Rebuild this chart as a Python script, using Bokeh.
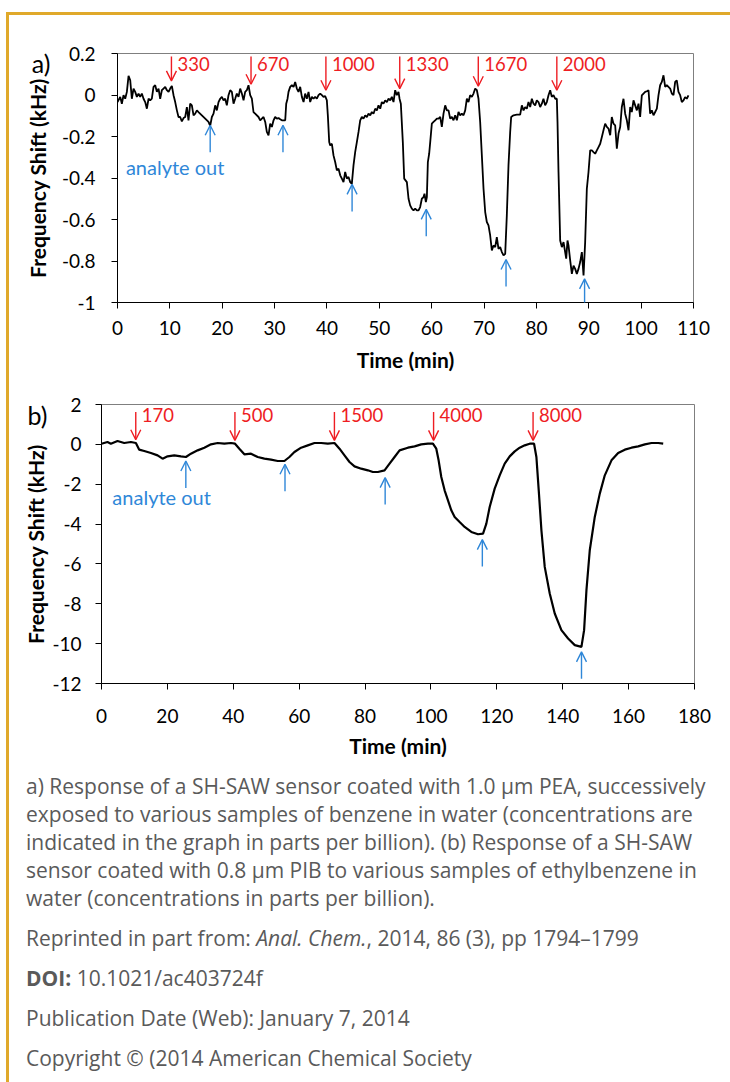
from bokeh.plotting import figure
from bokeh.layouts import column
from bokeh.models import (Range1d, FixedTicker, NumeralTickFormatter, Arrow, OpenHead,
                          Label, LabelSet, ColumnDataSource, Div, LinearAxis)
from bokeh.embed import file_html
from bokeh.resources import INLINE
from bokeh.core.properties import value

# ---------------- Panel a data (benzene, PEA) ----------------
a_time = [0.0, 0.52, 0.83, 1.15, 1.47, 1.79, 2.11, 2.43, 2.74, 3.06, 3.38, 3.70, 4.02, 4.33, 4.65,
          4.97, 5.29, 5.61, 5.93, 6.24, 6.56, 6.88, 7.20, 7.52, 7.84, 8.15, 8.47, 8.79, 9.11, 9.43,
          9.75, 10.06, 10.38, 10.70, 11.02, 11.34, 11.65, 11.97, 12.29, 12.61, 12.93, 13.25, 13.56,
          13.88, 14.20, 14.52, 14.84, 15.16, 15.47, 16.11, 16.75, 17.38, 17.70, 18.02, 18.34, 18.66,
          18.97, 19.29, 19.61, 19.93, 20.25, 20.56, 20.88, 21.20, 21.52, 21.84, 22.16, 22.47, 22.79,
          23.11, 23.43, 23.75, 24.07, 24.38, 24.70, 25.02, 25.34, 25.66, 25.97, 26.29, 26.93,
          27.25, 27.57, 27.89, 28.21, 28.52, 28.84, 29.16, 29.48, 29.80, 30.11, 30.43, 30.75, 31.07,
          31.39, 31.71, 32.03, 32.22, 32.47, 32.66, 32.98, 33.30, 33.62, 33.93, 34.25, 34.57, 34.89,
          35.21, 35.53, 35.84, 36.16, 36.48, 36.80, 37.12, 37.43, 37.75, 38.07, 38.39, 38.71, 39.03,
          39.34, 39.66, 39.98, 40.17, 40.43, 40.62, 40.94, 41.25, 41.57, 41.89, 42.21, 42.53, 42.85,
          43.16, 43.48, 43.80, 44.12, 44.44, 44.75, 45.07, 45.39, 45.71, 46.03, 46.35, 46.66, 46.98,
          47.30, 47.62, 47.94, 48.26, 48.57, 48.89, 49.21, 49.53, 49.85, 50.17, 50.48, 50.80, 51.12,
          51.44, 51.76, 52.08, 52.39, 52.71, 53.03, 53.35, 53.66, 53.86, 54.11, 54.49, 54.75,
          55.26, 55.58, 55.89, 56.21, 56.53, 56.85, 57.17, 57.49, 57.80, 58.12, 58.44, 58.63, 58.89,
          59.08, 59.27, 59.52, 59.72, 60.03, 60.35, 60.67, 60.99, 61.31, 61.63, 61.94, 62.26, 62.58,
          62.90, 63.22, 63.53, 63.85, 64.17, 64.49, 64.81, 65.12, 65.44, 65.76, 66.08, 66.40, 66.72,
          67.03, 67.35, 67.67, 67.99, 68.31, 68.63, 68.94, 69.26, 69.58, 69.90, 70.22, 70.53, 70.85,
          71.17, 71.49, 71.81, 72.13, 72.44, 72.76, 73.08, 73.40, 73.72, 74.04, 74.35, 74.67, 74.99,
          75.18, 75.63, 76.26, 76.90, 77.22, 77.54, 77.85, 78.17, 78.49, 78.81, 79.13, 79.45, 79.76,
          80.08, 80.40, 80.72, 81.04, 81.35, 81.67, 81.99, 82.31, 82.63, 82.94, 83.26, 83.58,
          83.90, 84.03, 84.22, 84.54, 84.86, 85.18, 85.49, 85.69, 85.94, 86.13, 86.45, 86.77, 87.09,
          87.40, 87.72, 88.04, 88.36, 88.68, 89.00, 89.31, 89.63, 89.95, 90.27, 90.59, 90.90, 91.22,
          91.54, 91.86, 92.18, 92.50, 92.81, 93.13, 93.45, 93.77, 94.09, 94.40, 94.72, 95.04, 95.36,
          95.68, 96.00, 96.31, 96.63, 96.95, 97.27, 97.59, 97.91, 98.22, 98.54, 98.86, 99.18, 99.50,
          99.81, 100.13, 100.45, 100.77, 101.09, 101.41, 101.72, 102.04, 102.36, 102.68, 103.00,
          103.31, 103.63, 103.95, 104.27, 104.59, 104.90, 105.22, 105.54, 105.86, 106.18, 106.50,
          106.81, 107.13, 107.45, 107.77, 108.09, 108.40, 108.72, 109.04]
a_shift = [-0.034, -0.009, -0.042, -0.001, -0.018, 0.015, 0.092, 0.071, -0.018, 0.031, 0.015, -0.009,
           0.007, -0.009, 0.007, -0.018, -0.034, -0.066, -0.018, -0.026, -0.018, 0.039, 0.047, 0.015,
           0.031, -0.018, 0.023, 0.031, 0.039, 0.023, 0.015, 0.031, 0.044, -0.001, -0.034, -0.074,
           -0.106, -0.106, -0.127, -0.111, -0.106, -0.058, -0.122, -0.042, -0.050, -0.098, -0.090,
           -0.074, -0.082, -0.098, -0.114, -0.130, -0.149, -0.106, -0.090, -0.050, -0.074, -0.034,
           -0.018, -0.009, -0.026, -0.018, -0.050, -0.001, 0.023, 0.015, -0.042, -0.018, 0.007,
           -0.009, 0.031, 0.007, -0.026, 0.015, 0.023, 0.047, -0.001, -0.018, -0.082, -0.090, -0.106,
           -0.122, -0.114, -0.106, -0.130, -0.178, -0.194, -0.138, -0.154, -0.122, -0.106, -0.114,
           -0.111, -0.117, -0.122, -0.122, -0.122, -0.042, -0.018, 0.015, 0.039, 0.047, 0.039, 0.063,
           0.031, 0.015, 0.039, -0.009, -0.034, 0.007, -0.018, 0.015, -0.034, -0.009, -0.018, -0.009,
           -0.018, -0.001, 0.007, -0.001, -0.009, -0.005, -0.026, -0.098, -0.227, -0.243, -0.235,
           -0.291, -0.323, -0.363, -0.355, -0.387, -0.403, -0.420, -0.371, -0.403, -0.395, -0.420,
           -0.428, -0.339, -0.275, -0.227, -0.178, -0.122, -0.106, -0.114, -0.098, -0.106, -0.090,
           -0.098, -0.082, -0.090, -0.066, -0.074, -0.050, -0.066, -0.034, -0.042, -0.026, -0.034,
           -0.018, -0.026, -0.009, -0.034, 0.023, -0.001, 0.015, -0.018, -0.042, -0.227, -0.403,
           -0.420, -0.500, -0.532, -0.548, -0.556, -0.548, -0.556, -0.556, -0.540, -0.500, -0.492,
           -0.476, -0.516, -0.492, -0.323, -0.283, -0.227, -0.138, -0.130, -0.122, -0.114, -0.114,
           -0.106, -0.154, -0.090, -0.050, -0.074, -0.074, -0.114, -0.106, -0.122, -0.098, -0.122,
           -0.082, -0.098, -0.090, -0.098, -0.074, -0.018, -0.034, -0.001, -0.009, 0.007, 0.031,
           0.023, -0.018, -0.130, -0.291, -0.452, -0.564, -0.612, -0.628, -0.677, -0.749, -0.725,
           -0.733, -0.685, -0.741, -0.733, -0.757, -0.773, -0.765, -0.580, -0.339, -0.178, -0.106,
           -0.098, -0.095, -0.095, -0.050, -0.074, -0.058, -0.066, -0.034, -0.058, -0.018, -0.042,
           -0.050, -0.026, -0.034, -0.058, -0.042, -0.018, -0.050, -0.034, -0.001, 0.023, -0.009,
           -0.001, -0.018, -0.018, -0.130, -0.371, -0.701, -0.733, -0.709, -0.757, -0.789, -0.701,
           -0.725, -0.797, -0.862, -0.822, -0.838, -0.862, -0.838, -0.805, -0.757, -0.870, -0.709,
           -0.452, -0.371, -0.267, -0.267, -0.275, -0.283, -0.267, -0.251, -0.235, -0.202, -0.170,
           -0.138, -0.154, -0.162, -0.194, -0.106, -0.138, -0.146, -0.259, -0.186, -0.154, -0.058,
           -0.018, -0.090, -0.122, -0.170, -0.058, -0.082, -0.026, -0.050, -0.074, -0.042, -0.106,
           -0.002, 0.007, 0.015, 0.018, 0.023, -0.090, -0.074, -0.098, -0.082, -0.066, -0.002, 0.047,
           0.063, 0.095, 0.039, 0.047, 0.039, 0.031, 0.007, -0.001, 0.063, 0.071, 0.015, -0.001,
           -0.034, -0.026, -0.010, -0.018, -0.002]

a_conc_labels = ["330", "670", "1000", "1330", "1670", "2000"]
a_conc_time = [10.3, 25.5, 39.8, 53.9, 68.9, 83.9]
a_conc_tip = [0.068, 0.052, 0.023, 0.031, 0.042, 0.023]
a_out_time = [17.7, 31.6, 44.8, 58.96, 74.2, 89.2]
a_out_tip = [-0.146, -0.146, -0.431, -0.551, -0.793, -0.886]

# ---------------- Panel b data (ethylbenzene, PIB) ----------------
b_time = [0.0, 1.82, 2.84, 4.86, 6.89, 8.92, 10.44, 11.45, 12.97, 15.0, 17.02, 18.54, 20.06, 22.09,
          24.11, 25.63, 27.15, 29.18, 31.21, 33.23, 35.26, 37.28, 39.31, 40.53, 41.84, 43.36, 45.39,
          47.42, 49.44, 51.47, 53.5, 55.52, 57.04, 58.56, 60.59, 62.61, 64.64, 66.67, 68.69, 70.72,
          72.24, 73.76, 75.28, 76.80, 78.83, 80.85, 82.37, 83.89, 85.92, 87.44, 88.96, 90.48,
          93.0, 95.03, 97.05, 99.08, 100.60, 101.62, 102.33, 103.14, 104.15, 105.17, 106.18, 107.2,
          108.71, 110.23, 112.26, 114.29, 115.81, 116.82, 117.83, 119.35, 120.87, 122.39, 123.91,
          125.43, 126.94, 128.46, 129.98, 131.30, 132.01, 132.72, 133.53, 134.54, 136.06, 137.58,
          139.6, 141.63, 143.66, 145.68, 146.49, 147.2, 148.21, 149.73, 151.25, 152.77, 154.8,
          156.82, 158.85, 160.88, 162.9, 164.93, 166.95, 168.98, 170.5]
b_shift = [0.033, 0.117, 0.033, 0.167, 0.067, 0.117, 0.067, -0.267, -0.334, -0.434, -0.551, -0.718,
           -0.601, -0.551, -0.601, -0.635, -0.468, -0.301, -0.167, 0.0, 0.067, 0.033, 0.067, 0.033,
           -0.217, -0.501, -0.468, -0.635, -0.718, -0.769, -0.835, -0.835, -0.635, -0.384, -0.167,
           -0.050, 0.067, 0.067, 0.033, 0.067, -0.217, -0.551, -0.886, -1.103, -1.220, -1.303,
           -1.387, -1.387, -1.303, -0.969, -0.635, -0.301,
           -0.167, -0.100, 0.0, 0.033, 0.033, -0.217, -0.802, -1.637, -2.306, -2.807, -3.308, -3.642,
           -3.893, -4.144, -4.394, -4.511, -4.478, -3.977, -3.141, -2.222, -1.554, -0.969, -0.602,
           -0.351, -0.167, -0.050, 0.033, 0.033, -0.635, -2.306, -4.311, -6.149, -7.485, -8.488,
           -9.323, -9.741, -10.075, -10.159, -9.323, -7.318, -5.313, -3.642, -2.473, -1.554, -0.802,
           -0.434, -0.267, -0.167, -0.100, 0.0, 0.067, 0.067, 0.033]

b_conc_labels = ["170", "500", "1500", "4000", "8000"]
b_conc_time = [10.4, 40.5, 70.7, 100.8, 131.0]
b_conc_tip = [0.23, 0.2, 0.2, 0.2, 0.2]
b_out_time = [25.6, 55.7, 86.1, 115.6, 145.7]
b_out_tip = [-0.835, -1.0, -1.67, -4.78, -10.41]

FONT = "Lato"
RED = "#EE1D23"
BLUE = "#2F87D8"


def style(p, label_standoff_x, label_standoff_y, title_standoff_x, title_standoff_y):
    p.frame_align = False
    p.xgrid.visible = False
    p.ygrid.visible = False
    p.outline_line_color = "#7F7F7F"
    p.outline_line_width = 1
    p.background_fill_color = "white"
    p.border_fill_color = "white"
    for ax in (p.xaxis[0], p.yaxis[0]):
        ax.axis_line_color = "black"
        ax.axis_line_width = 1
        ax.major_tick_line_color = "black"
        ax.major_tick_out = 6
        ax.major_tick_in = 0
        ax.minor_tick_line_color = None
        ax.major_label_text_font = FONT
        ax.major_label_text_font_size = "19px"
        ax.major_label_text_color = "black"
        ax.axis_label_text_font = FONT
        ax.axis_label_text_font_style = "bold"
        ax.axis_label_text_font_size = "21px"
        ax.axis_label_text_color = "black"
    p.xaxis[0].major_label_standoff = label_standoff_x
    p.yaxis[0].major_label_standoff = label_standoff_y
    p.xaxis[0].axis_label_standoff = title_standoff_x
    p.yaxis[0].axis_label_standoff = title_standoff_y
    p.xaxis[0].axis_label = "Time (min)"
    p.yaxis[0].axis_label = "Frequency Shift (kHz)"


def panel_tag(p, text, frame_px, tag_px, standoff):
    # an extra, invisible left axis whose single tick label is the panel tag
    p.extra_y_ranges = {"tag": Range1d(0, frame_px)}
    ax = LinearAxis(y_range_name="tag", ticker=FixedTicker(ticks=[tag_px]),
                    major_label_overrides={tag_px: text},
                    axis_line_color=None, major_tick_line_color=None,
                    minor_tick_line_color=None, major_label_standoff=standoff,
                    major_label_text_font=FONT, major_label_text_font_size="25px",
                    major_label_text_color="black")
    p.add_layout(ax, "left")


def annotate(p, conc_t, conc_tip, conc_top, conc_lbl, lbl_y, out_t, out_tip, out_len,
             out_text_x, out_text_y):
    red_src = ColumnDataSource(dict(x=conc_t, y0=[conc_top] * len(conc_t), y1=conc_tip))
    p.add_layout(Arrow(end=OpenHead(size=10, line_color=RED, line_width=1.4),
                       x_start="x", y_start="y0", x_end="x", y_end="y1",
                       line_color=RED, line_width=1.4, source=red_src))
    lab_src = ColumnDataSource(dict(x=conc_t, y=[lbl_y] * len(conc_t), t=conc_lbl))
    p.add_layout(LabelSet(x="x", y="y", text="t", source=lab_src, x_offset=6,
                          text_font=value(FONT), text_font_size="18.5px", text_color=RED,
                          text_baseline="middle", text_align="left"))
    blue_src = ColumnDataSource(dict(x=out_t, y0=[v - out_len for v in out_tip], y1=out_tip))
    p.add_layout(Arrow(end=OpenHead(size=10, line_color=BLUE, line_width=1.4),
                       x_start="x", y_start="y0", x_end="x", y_end="y1",
                       line_color=BLUE, line_width=1.4, source=blue_src))
    p.add_layout(Label(x=out_text_x, y=out_text_y, text="analyte out", text_font=FONT,
                       text_font_size="20px", text_color=BLUE, text_baseline="middle"))


# ---------------- Figure a ----------------
pa = figure(width=721, height=367, x_range=Range1d(0, 110), y_range=Range1d(-1, 0.2),
            output_backend="svg", toolbar_location=None,
            min_border_left=108, min_border_right=37, min_border_top=38, min_border_bottom=80)
style(pa, 12, 16, 9, 9)
pa.xaxis[0].ticker = FixedTicker(ticks=list(range(0, 111, 10)))
pa.yaxis[0].ticker = FixedTicker(ticks=[0.2, 0.0, -0.2, -0.4, -0.6, -0.8, -1.0])
pa.yaxis[0].formatter = NumeralTickFormatter(format="0.[0]")
pa.line(a_time, a_shift, line_color="black", line_width=1.8)
annotate(pa, a_conc_time, a_conc_tip, 0.185, a_conc_labels, 0.151,
         a_out_time, a_out_tip, 0.13, 1.6, -0.347)
panel_tag(pa, "a)", 249, 240, -35)

# ---------------- Figure b ----------------
pb = figure(width=721, height=388, x_range=Range1d(0, 180), y_range=Range1d(-12, 2),
            output_backend="svg", toolbar_location=None,
            min_border_left=92, min_border_right=36, min_border_top=22, min_border_bottom=87)
style(pb, 19, 14, 7, 1)
pb.xaxis[0].ticker = FixedTicker(ticks=list(range(0, 181, 20)))
pb.yaxis[0].ticker = FixedTicker(ticks=list(range(-12, 3, 2)))
pb.yaxis[0].formatter = NumeralTickFormatter(format="0")
pb.line(b_time, b_shift, line_color="black", line_width=2.2)
annotate(pb, b_conc_time, b_conc_tip, 1.62, b_conc_labels, 1.45,
         b_out_time, b_out_tip, 1.35, 3.3, -2.64)
panel_tag(pb, "b)", 279, 269, -33)

# ---------------- Caption ----------------
caption_html = (
    '<div style="font-family:\'Open Sans\'; font-size:21px; line-height:28px; color:#5A5A5A; '
    'margin-top:-3px; padding:0 0 0 12px; white-space:nowrap;">'
    'a) Response of a SH-SAW sensor coated with 1.0 μm PEA, successively<br>'
    'exposed to various samples of benzene in water (concentrations are<br>'
    'indicated in the graph in parts per billion). (b) Response of a SH-SAW<br>'
    'sensor coated with 0.8 μm PIB to various samples of ethylbenzene in<br>'
    'water (concentrations in parts per billion).'
    '<p style="margin:12px 0 0 0;">Reprinted in part from: <i>Anal. Chem.</i>, 2014, 86 (3), pp 1794–1799</p>'
    '<p style="margin:12px 0 0 0;"><b>DOI:</b> 10.1021/ac403724f</p>'
    '<p style="margin:12px 0 0 0;">Publication Date (Web): January 7, 2014</p>'
    '<p style="margin:12px 0 0 0;">Copyright © (2014 American Chemical Society</p>'
    '</div>'
)
cap = Div(text=caption_html, width=721, height=312)

layout = column(pa, pb, cap, styles={"border-top": "3px solid #E0A92A",
                                     "border-left": "3px solid #E0A92A",
                                     "margin-top": "12px", "margin-left": "6px"})

open("out.html", "w").write(file_html(layout, INLINE))
